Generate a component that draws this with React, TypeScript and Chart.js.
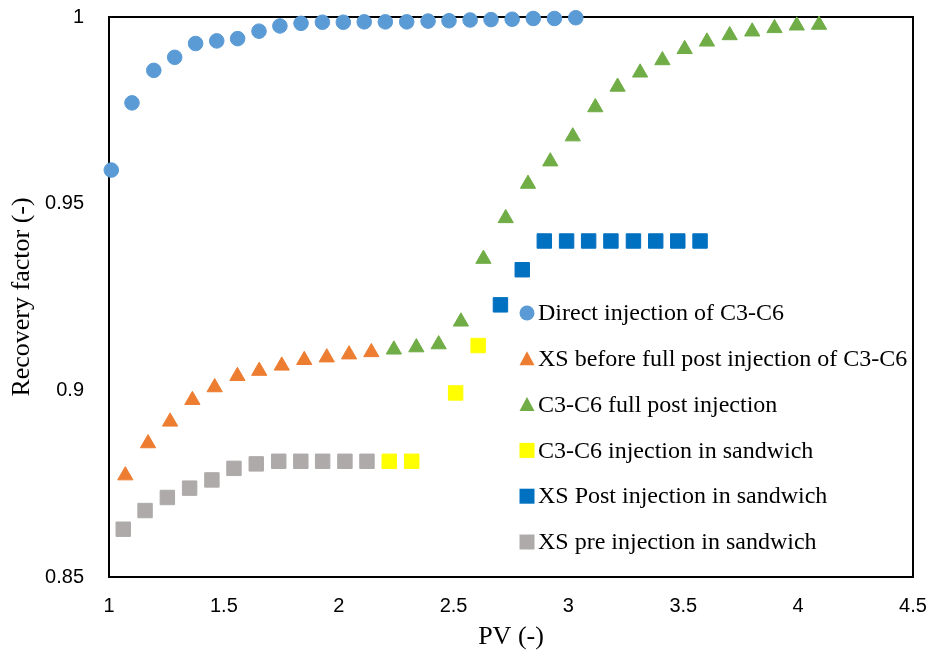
import React, { useEffect, useRef } from 'react';
import { Chart, registerables } from 'chart.js';

Chart.register(...registerables);

// ---- Data ----
const seriesNames = [
  'Direct injection of C3-C6',
  'XS before full post injection of C3-C6',
  'C3-C6 full post injection',
  'C3-C6 injection in sandwich',
  'XS Post injection in sandwich',
  'XS pre injection in sandwich',
];

const directX = [1.01, 1.1, 1.195, 1.286, 1.377, 1.469, 1.56, 1.653, 1.744, 1.836, 1.929, 2.02, 2.111, 2.203, 2.296, 2.389, 2.48, 2.572, 2.663, 2.755, 2.847, 2.939, 3.032];
const directY = [0.959, 0.977, 0.9857, 0.9892, 0.9929, 0.9936, 0.9942, 0.9962, 0.9976, 0.9983, 0.9986, 0.9986, 0.9987, 0.9987, 0.9987, 0.9989, 0.999, 0.9992, 0.9993, 0.9994, 0.9996, 0.9996, 0.9998];

const xsBeforeX = [1.071, 1.17, 1.266, 1.363, 1.46, 1.559, 1.654, 1.752, 1.85, 1.948, 2.045, 2.142];
const xsBeforeY = [0.8772, 0.8858, 0.8916, 0.8974, 0.9008, 0.9038, 0.9052, 0.9066, 0.9081, 0.9088, 0.9096, 0.9102];

const fullPostX = [2.24, 2.338, 2.435, 2.532, 2.63, 2.727, 2.824, 2.921, 3.019, 3.117, 3.214, 3.312, 3.409, 3.506, 3.603, 3.702, 3.8, 3.897, 3.994, 4.091];
const fullPostY = [0.9109, 0.9115, 0.9123, 0.9184, 0.9352, 0.9461, 0.9553, 0.9613, 0.968, 0.9758, 0.9813, 0.9851, 0.9884, 0.9914, 0.9934, 0.9951, 0.9961, 0.997, 0.9977, 0.9979];

const sandwichX = [2.22, 2.318, 2.509, 2.607];
const sandwichY = [0.881, 0.881, 0.8993, 0.912];

const xsPostX = [2.704, 2.799, 2.895, 2.992, 3.088, 3.185, 3.283, 3.38, 3.476, 3.573];
const xsPostY = [0.9229, 0.9323, 0.94, 0.94, 0.94, 0.94, 0.94, 0.94, 0.94, 0.94];

const xsPreX = [1.062, 1.157, 1.254, 1.351, 1.448, 1.544, 1.641, 1.739, 1.835, 1.93, 2.027, 2.123];
const xsPreY = [0.8628, 0.8678, 0.8713, 0.8738, 0.876, 0.8791, 0.8803, 0.881, 0.881, 0.881, 0.881, 0.881];

const xTickValues = [1, 1.5, 2, 2.5, 3, 3.5, 4, 4.5];
const xTickLabels = ['1', '1.5', '2', '2.5', '3', '3.5', '4', '4.5'];
const yTickValues = [0.85, 0.9, 0.95, 1];
const yTickLabels = ['0.85', '0.9', '0.95', '1'];

const xTitle = 'PV (-)';
const yTitle = 'Recovery factor (-)';

const toPoints = (xs: number[], ys: number[]) => xs.map((x, i) => ({ x, y: ys[i] }));

const framePlugin = {
  id: 'frame',
  beforeDatasetsDraw(chart: any) {
    const { ctx, chartArea: a } = chart;
    ctx.save();
    ctx.strokeStyle = '#000';
    ctx.lineWidth = 2;
    ctx.strokeRect(a.left, a.top, a.right - a.left, a.bottom - a.top);
    ctx.restore();
  },
};

const insideLegendPlugin = {
  id: 'insideLegend',
  afterDatasetsDraw(chart: any) {
    const { ctx, chartArea: a } = chart;
    const x0 = a.left + 418;
    const y0 = a.top + 296;
    const dy = 45.8;
    ctx.save();
    chart.data.datasets.forEach((ds: any, i: number) => {
      const x = x0;
      const y = y0 + i * dy;
      ctx.fillStyle = ds.backgroundColor;
      ctx.beginPath();
      if (ds.pointStyle === 'circle') {
        ctx.arc(x, y, 7.5, 0, Math.PI * 2);
      } else if (ds.pointStyle === 'triangle') {
        ctx.moveTo(x, y - 7.5);
        ctx.lineTo(x + 7.5, y + 6.5);
        ctx.lineTo(x - 7.5, y + 6.5);
        ctx.closePath();
      } else {
        ctx.rect(x - 7.5, y - 7.5, 15, 15);
      }
      ctx.fill();
      ctx.fillStyle = '#000';
      ctx.font = '24px "Liberation Serif", "Times New Roman", serif';
      ctx.textBaseline = 'middle';
      ctx.textAlign = 'left';
      ctx.fillText(ds.label, x + 11, y + 1);
    });
    ctx.restore();
  },
};

export default function App() {
  const canvasRef = useRef<HTMLCanvasElement | null>(null);

  useEffect(() => {
    if (!canvasRef.current) return;
    const mk = (label: string, xs: number[], ys: number[], color: string, style: string, r: number) => ({
      label,
      data: toPoints(xs, ys),
      backgroundColor: color,
      borderColor: color,
      borderWidth: 1,
      pointStyle: style,
      pointRadius: r,
      pointHoverRadius: r,
      showLine: false,
      clip: false as any,
    });
    const chart = new Chart(canvasRef.current, {
      type: 'scatter',
      data: {
        datasets: [
          mk(seriesNames[0], directX, directY, '#5B9BD5', 'circle', 7.3),
          mk(seriesNames[1], xsBeforeX, xsBeforeY, '#ED7D31', 'triangle', 8.8),
          mk(seriesNames[2], fullPostX, fullPostY, '#70AD47', 'triangle', 8.8),
          mk(seriesNames[3], sandwichX, sandwichY, '#FFFF00', 'rect', 10.2),
          mk(seriesNames[4], xsPostX, xsPostY, '#0070C0', 'rect', 10.2),
          mk(seriesNames[5], xsPreX, xsPreY, '#AEAAAA', 'rect', 10.2),
        ] as any,
      },
      options: {
        animation: false,
        responsive: false,
        devicePixelRatio: 1,
        layout: { padding: { left: 0, top: 17, right: 17, bottom: 0 } },
        plugins: {
          legend: { display: false },
          tooltip: { enabled: false },
        },
        scales: {
          x: {
            type: 'linear',
            min: 1,
            max: 4.5,
            grid: { display: false, drawTicks: false },
            border: { display: false },
            afterBuildTicks: (scale: any) => {
              scale.ticks = xTickValues.map((v) => ({ value: v }));
            },
            afterFit: (scale: any) => {
              scale.height = 80;
              scale.paddingLeft = 0;
              scale.paddingRight = 0;
            },
            ticks: {
              padding: 17,
              color: '#000',
              font: { family: '"Liberation Sans", Arial, sans-serif', size: 20 },
              callback: (_v: any, i: number) => xTickLabels[i],
            },
            title: {
              display: true,
              text: xTitle,
              color: '#000',
              font: { family: '"Liberation Serif", "Times New Roman", serif', size: 26, lineHeight: 1.2 },
              padding: { top: 0, bottom: 4 },
            },
          },
          y: {
            type: 'linear',
            min: 0.85,
            max: 1,
            grid: { display: false, drawTicks: false },
            border: { display: false },
            afterBuildTicks: (scale: any) => {
              scale.ticks = yTickValues.map((v) => ({ value: v }));
            },
            afterFit: (scale: any) => {
              scale.width = 109;
              scale.paddingTop = 0;
              scale.paddingBottom = 0;
            },
            ticks: {
              padding: 25,
              color: '#000',
              font: { family: '"Liberation Sans", Arial, sans-serif', size: 20 },
              callback: (_v: any, i: number) => yTickLabels[i],
            },
            title: {
              display: true,
              text: yTitle,
              color: '#000',
              font: { family: '"Liberation Serif", "Times New Roman", serif', size: 26, lineHeight: 1.2 },
              padding: { top: 7, bottom: 0 },
            },
          },
        },
      } as any,
      plugins: [framePlugin, insideLegendPlugin],
    });
    return () => chart.destroy();
  }, []);

  return (
    <div style={{ position: 'fixed', left: 0, top: 0, width: 930, height: 657, background: '#fff' }}>
      <canvas ref={canvasRef} width={930} height={657} style={{ width: 930, height: 657, display: 'block' }} />
    </div>
  );
}
